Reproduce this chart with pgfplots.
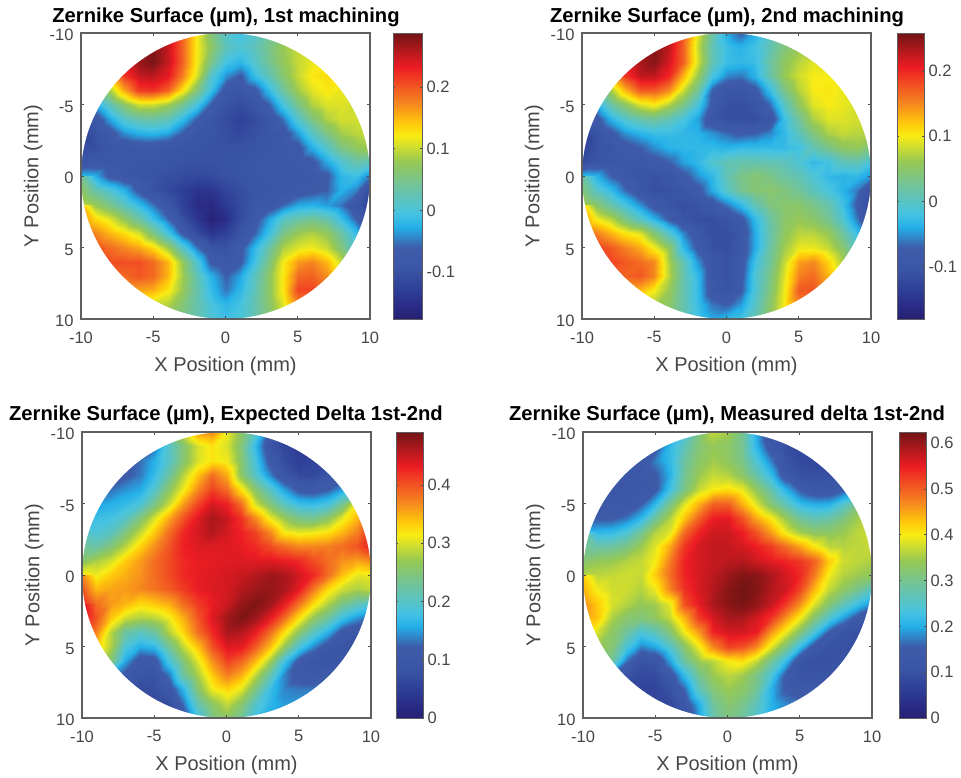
\documentclass[border=0pt]{standalone}
\usepackage{pgfplots}
\usepackage{fontspec}
\setmainfont{Liberation Sans}
\pgfplotsset{compat=1.18}
\definecolor{framegray}{RGB}{95,95,95}
\definecolor{textgray}{RGB}{70,70,70}
\pgfplotsset{
  colormap={zern}{
    rgb255(0pt)=(38,32,115);
    rgb255(5pt)=(42,45,135);
    rgb255(10pt)=(46,62,150);
    rgb255(17pt)=(58,84,165);
    rgb255(25pt)=(62,92,170);
    rgb255(32pt)=(35,175,232);
    rgb255(37pt)=(70,195,225);
    rgb255(46pt)=(110,195,160);
    rgb255(55pt)=(150,200,85);
    rgb255(64pt)=(248,236,20);
    rgb255(68pt)=(255,205,10);
    rgb255(76pt)=(245,130,32);
    rgb255(88pt)=(237,28,36);
    rgb255(100pt)=(115,20,20)
  },
  zern/.style={
    scale only axis,
    width=289pt,height=286pt,
    anchor=south west,
    xmin=-10,xmax=10,ymin=-10,ymax=10,
    y dir=reverse,
    xtick={-10,-5,0,5,10},ytick={-10,-5,0,5,10},
    axis on top,
    axis line style={draw=framegray,line width=1.2pt},
    tick style={draw=black!70,line width=0.6pt},
    major tick length=3pt,
    tick align=inside,
    tick label style={font=\fontsize{16.5}{18}\selectfont,text=textgray},
    xticklabel style={yshift=-9pt},
    yticklabel style={xshift=-4pt,yshift=-2pt},
    /pgf/number format/assume math mode=true,
    xlabel={X Position (mm)},ylabel={Y Position (mm)},
    label style={font=\fontsize{20}{24}\selectfont,text=textgray},
    x label style={at={(axis description cs:0.5,-0.165)},anchor=center},
    y label style={at={(axis description cs:-0.165,0.5)},anchor=center},
    colormap name=zern,
    colorbar,
    colorbar/width=27pt,
    colorbar style={
      anchor=south west,
      axis line style={draw=framegray,line width=0.8pt},
      tick style={draw=black!70,line width=0.6pt},
      major tick length=2pt,
      tick align=inside,
      /pgf/number format/assume math mode=true,
      yticklabel style={font=\fontsize{16.5}{18}\selectfont,text=textgray,xshift=1pt},
    },
  },
  surfdata/.style={surf,shader=interp,mesh/cols=21,point meta={\thisrowno{0}/1000}},
  /pgfplots/table/griddata/.style={/pgfplots/table/header=false,/pgfplots/table/row sep=\\,/pgfplots/table/x expr={mod(\coordindex,21)-10},/pgfplots/table/y expr={floor(\coordindex/21)-10}},
}
\newcommand{\discmask}{\fill[white,even odd rule] (axis cs:-11,-11) rectangle (axis cs:11,11) (axis cs:0,0) ellipse [x radius=10,y radius=10];}
\begin{document}
\begin{tikzpicture}[x=1pt,y=1pt]
\path[use as bounding box] (0,0) rectangle (961,777);
% values below are in nm (thousandths of a micrometre); rows y=-10..10, columns x=-10..10
\begin{axis}[zern,at={(81pt,458pt)},point meta min=-0.176,point meta max=0.2875,colorbar/width=29pt,
  colorbar style={at={(1.0796,0)},ytick={-0.1,0,0.1,0.2},yticklabels={-0.1,0,0.1,0.2}}]
\addplot[surfdata] table[griddata] {
280\\280\\280\\280\\280\\280\\260\\190\\120\\60\\10\\-10\\10\\40\\60\\80\\90\\90\\90\\90\\90\\
280\\280\\280\\280\\280\\280\\250\\195\\120\\70\\20\\5\\20\\50\\80\\100\\110\\110\\110\\110\\110\\
260\\260\\260\\260\\270\\285\\250\\195\\118\\50\\-5\\-20\\10\\45\\75\\100\\115\\120\\120\\120\\120\\
190\\190\\190\\215\\250\\255\\235\\180\\105\\10\\-40\\-65\\-15\\25\\65\\100\\125\\130\\125\\120\\120\\
40\\60\\90\\160\\215\\220\\195\\130\\60\\-10\\-80\\-90\\-70\\-15\\40\\85\\112\\125\\115\\110\\110\\
-80\\-30\\20\\65\\100\\100\\80\\45\\-5\\-65\\-100\\-110\\-95\\-60\\-5\\50\\90\\108\\110\\100\\100\\
-110\\-85\\-30\\10\\30\\35\\25\\-15\\-60\\-90\\-110\\-125\\-110\\-90\\-50\\10\\55\\90\\105\\105\\100\\
-120\\-100\\-75\\-40\\-25\\-20\\-30\\-60\\-85\\-95\\-105\\-115\\-105\\-90\\-80\\-35\\15\\55\\85\\95\\100\\
-125\\-105\\-90\\-85\\-80\\-80\\-85\\-90\\-95\\-100\\-100\\-100\\-95\\-90\\-85\\-70\\-25\\15\\55\\75\\85\\
-90\\-85\\-85\\-85\\-90\\-90\\-95\\-100\\-100\\-100\\-95\\-95\\-90\\-85\\-85\\-80\\-70\\-30\\5\\30\\20\\
-20\\-25\\-70\\-85\\-95\\-100\\-105\\-110\\-115\\-110\\-100\\-95\\-90\\-85\\-85\\-85\\-80\\-65\\-20\\-10\\-50\\
45\\30\\5\\-25\\-70\\-100\\-115\\-130\\-145\\-140\\-120\\-105\\-95\\-90\\-85\\-80\\-70\\-60\\-25\\-45\\-110\\
100\\80\\50\\20\\-15\\-50\\-90\\-125\\-155\\-160\\-135\\-110\\-90\\-80\\-55\\-30\\-25\\-35\\-50\\-90\\-130\\
150\\135\\110\\75\\35\\-10\\-55\\-105\\-140\\-170\\-150\\-110\\-75\\-30\\15\\35\\45\\30\\-10\\-60\\-120\\
190\\175\\150\\130\\105\\55\\-5\\-65\\-110\\-140\\-125\\-95\\-60\\-10\\50\\80\\90\\75\\35\\-15\\-80\\
220\\205\\190\\175\\160\\135\\85\\15\\-50\\-95\\-100\\-70\\-20\\35\\90\\110\\118\\100\\60\\0\\-60\\
220\\205\\205\\205\\205\\190\\150\\80\\5\\-65\\-85\\-65\\-10\\55\\120\\165\\175\\150\\100\\50\\0\\
180\\190\\190\\190\\200\\190\\150\\85\\25\\-25\\-60\\-30\\15\\70\\125\\190\\195\\170\\130\\80\\50\\
150\\150\\150\\160\\160\\155\\125\\80\\30\\-15\\-50\\-20\\20\\70\\125\\210\\210\\180\\150\\110\\80\\
100\\100\\100\\100\\100\\100\\90\\60\\30\\0\\-20\\-5\\25\\65\\110\\170\\170\\150\\130\\110\\90\\
80\\80\\80\\80\\80\\80\\70\\50\\30\\5\\-10\\0\\25\\60\\100\\130\\130\\120\\110\\100\\90\\
};
\discmask
\end{axis}
\begin{axis}[zern,at={(582pt,458pt)},point meta min=-0.18,point meta max=0.258,
  colorbar style={at={(1.09,0)},ytick={-0.1,0,0.1,0.2},yticklabels={-0.1,0,0.1,0.2}}]
\addplot[surfdata] table[griddata] {
250\\250\\250\\250\\250\\250\\240\\170\\90\\20\\-40\\-70\\-40\\0\\40\\60\\70\\70\\70\\70\\70\\
250\\250\\250\\250\\250\\250\\225\\170\\80\\10\\-25\\-35\\-20\\10\\40\\60\\70\\70\\70\\70\\70\\
235\\235\\235\\235\\235\\250\\215\\170\\85\\10\\-25\\-30\\-25\\20\\55\\75\\90\\90\\90\\90\\90\\
150\\150\\160\\190\\225\\225\\200\\130\\60\\-15\\-55\\-60\\-35\\15\\60\\85\\100\\100\\95\\90\\90\\
30\\50\\70\\130\\175\\175\\150\\85\\25\\-70\\-95\\-100\\-80\\-25\\35\\75\\100\\105\\95\\90\\90\\
-80\\-40\\15\\50\\85\\100\\70\\35\\-15\\-80\\-110\\-115\\-105\\-65\\0\\55\\90\\100\\95\\85\\80\\
-120\\-85\\-35\\-5\\15\\25\\10\\-15\\-45\\-100\\-115\\-115\\-115\\-95\\-25\\25\\70\\90\\90\\85\\80\\
-130\\-105\\-80\\-50\\-35\\-25\\-25\\-30\\-35\\-50\\-65\\-75\\-70\\-55\\-30\\5\\40\\70\\80\\75\\70\\
-140\\-110\\-100\\-85\\-70\\-50\\-35\\-30\\-30\\-30\\-35\\-30\\-30\\-30\\-30\\-20\\10\\35\\55\\60\\40\\
-120\\-100\\-95\\-95\\-95\\-85\\-70\\-45\\-30\\-5\\10\\15\\15\\10\\5\\-10\\-30\\-20\\5\\10\\-15\\
-30\\-35\\-70\\-90\\-105\\-110\\-100\\-80\\-50\\-30\\10\\35\\45\\35\\20\\10\\-10\\-30\\-35\\-30\\-50\\
20\\0\\-30\\-65\\-95\\-115\\-110\\-100\\-80\\-40\\0\\30\\45\\50\\40\\25\\5\\-15\\-35\\-60\\-110\\
70\\50\\15\\-15\\-50\\-85\\-105\\-115\\-105\\-90\\-60\\-30\\10\\40\\50\\50\\35\\15\\-20\\-75\\-130\\
120\\100\\75\\35\\0\\-35\\-75\\-105\\-115\\-115\\-105\\-80\\-30\\20\\50\\60\\50\\30\\-5\\-60\\-120\\
170\\155\\130\\105\\90\\45\\-5\\-55\\-95\\-115\\-115\\-95\\-40\\15\\55\\75\\75\\60\\25\\-25\\-90\\
200\\190\\175\\155\\135\\100\\55\\-30\\-80\\-110\\-115\\-90\\-40\\20\\65\\95\\95\\80\\50\\0\\-50\\
200\\195\\185\\175\\165\\150\\70\\10\\-50\\-100\\-110\\-85\\-20\\25\\80\\140\\150\\115\\70\\30\\0\\
170\\170\\170\\170\\175\\150\\75\\15\\-30\\-95\\-110\\-80\\-10\\35\\90\\155\\165\\130\\90\\60\\40\\
130\\130\\130\\130\\130\\100\\60\\15\\-30\\-90\\-105\\-75\\-10\\40\\95\\175\\175\\150\\120\\90\\70\\
90\\90\\90\\90\\80\\70\\50\\15\\-25\\-60\\-70\\-45\\0\\50\\100\\150\\150\\130\\110\\90\\70\\
70\\70\\70\\70\\70\\60\\40\\10\\-20\\-40\\-30\\-20\\10\\50\\90\\120\\120\\110\\100\\90\\70\\
};
\discmask
\end{axis}
\begin{axis}[zern,at={(82pt,59pt)},point meta min=0,point meta max=0.491,
  colorbar style={at={(1.0865,0)},ytick={0,0.1,0.2,0.3,0.4},yticklabels={0,0.1,0.2,0.3,0.4}}]
\addplot[surfdata] table[griddata] {
120\\120\\120\\120\\120\\130\\170\\300\\360\\370\\310\\260\\200\\110\\70\\60\\60\\60\\60\\60\\60\\
120\\120\\120\\120\\120\\130\\200\\250\\300\\320\\300\\250\\170\\90\\60\\50\\50\\50\\50\\50\\50\\
120\\120\\120\\120\\130\\160\\200\\255\\300\\320\\310\\255\\185\\110\\70\\50\\60\\60\\60\\60\\60\\
115\\115\\115\\115\\135\\170\\225\\285\\340\\385\\350\\260\\200\\140\\90\\65\\65\\90\\100\\100\\100\\
130\\130\\130\\145\\155\\195\\260\\310\\370\\410\\385\\320\\255\\200\\150\\110\\105\\120\\150\\180\\200\\
150\\150\\160\\170\\190\\240\\295\\360\\410\\445\\430\\385\\300\\250\\205\\175\\170\\185\\235\\320\\360\\
165\\175\\180\\200\\250\\300\\355\\400\\440\\465\\450\\420\\370\\310\\270\\240\\235\\260\\305\\345\\400\\
185\\190\\205\\245\\290\\335\\385\\425\\445\\460\\445\\430\\410\\370\\315\\305\\310\\320\\345\\375\\420\\
205\\220\\250\\285\\330\\365\\400\\430\\440\\440\\440\\435\\425\\405\\385\\370\\370\\375\\385\\400\\430\\
260\\280\\300\\335\\360\\385\\405\\425\\435\\435\\440\\440\\440\\440\\435\\425\\405\\385\\365\\355\\365\\
320\\310\\335\\350\\365\\385\\405\\425\\435\\440\\445\\450\\460\\470\\465\\445\\425\\385\\340\\305\\310\\
370\\345\\355\\360\\370\\380\\395\\415\\435\\440\\445\\460\\470\\475\\465\\435\\380\\325\\295\\280\\290\\
430\\385\\360\\345\\325\\335\\350\\385\\415\\435\\450\\475\\485\\470\\435\\380\\325\\280\\240\\210\\190\\
450\\400\\335\\295\\280\\285\\310\\350\\400\\440\\470\\485\\470\\435\\385\\320\\265\\225\\175\\145\\120\\
420\\375\\285\\225\\205\\225\\285\\330\\385\\425\\465\\460\\435\\385\\325\\260\\205\\160\\110\\95\\90\\
380\\340\\280\\190\\155\\165\\230\\290\\340\\400\\440\\435\\395\\340\\265\\185\\140\\100\\90\\80\\80\\
320\\300\\250\\155\\100\\105\\185\\250\\305\\365\\410\\390\\345\\275\\180\\110\\90\\85\\100\\100\\100\\
200\\200\\150\\110\\85\\85\\135\\225\\280\\335\\375\\350\\290\\215\\140\\105\\100\\110\\120\\120\\120\\
150\\120\\100\\80\\70\\75\\100\\165\\255\\310\\330\\305\\245\\175\\140\\135\\135\\140\\140\\140\\140\\
100\\80\\70\\70\\60\\60\\70\\130\\215\\260\\290\\255\\200\\165\\150\\150\\150\\150\\150\\150\\150\\
80\\70\\60\\60\\60\\60\\60\\100\\180\\240\\260\\230\\180\\150\\150\\150\\150\\150\\150\\150\\150\\
};
\discmask
\end{axis}
\begin{axis}[zern,at={(583pt,59pt)},point meta min=0,point meta max=0.624,
  colorbar style={at={(1.0934,0)},ytick={0,0.1,0.2,0.3,0.4,0.5,0.6},yticklabels={0,0.1,0.2,0.3,0.4,0.5,0.6}}]
\addplot[surfdata] table[griddata] {
120\\120\\120\\120\\120\\130\\170\\230\\310\\370\\350\\300\\200\\110\\80\\70\\70\\70\\70\\70\\70\\
120\\120\\120\\120\\120\\140\\215\\265\\320\\340\\330\\300\\210\\130\\95\\80\\80\\80\\80\\80\\80\\
120\\120\\120\\120\\130\\175\\215\\285\\330\\350\\335\\305\\245\\175\\105\\85\\80\\80\\80\\90\\90\\
120\\120\\120\\120\\125\\150\\205\\295\\345\\370\\360\\330\\280\\215\\130\\100\\95\\100\\120\\120\\120\\
130\\130\\120\\115\\125\\145\\225\\305\\370\\400\\410\\390\\335\\275\\205\\150\\125\\120\\145\\180\\200\\
150\\140\\125\\125\\155\\210\\305\\385\\445\\500\\500\\445\\385\\320\\270\\215\\200\\205\\250\\310\\340\\
175\\150\\150\\170\\210\\290\\360\\430\\500\\550\\555\\510\\450\\400\\345\\290\\270\\280\\310\\350\\370\\
205\\210\\215\\240\\295\\360\\385\\490\\545\\570\\570\\550\\510\\455\\395\\350\\330\\330\\345\\365\\375\\
280\\280\\285\\305\\345\\385\\450\\530\\565\\575\\575\\565\\550\\525\\490\\450\\405\\365\\360\\365\\370\\
325\\340\\345\\360\\370\\400\\480\\545\\565\\575\\580\\585\\570\\555\\545\\530\\500\\425\\375\\365\\355\\
360\\365\\370\\375\\370\\425\\490\\545\\565\\580\\600\\615\\610\\590\\565\\540\\480\\395\\360\\345\\335\\
420\\395\\375\\375\\360\\393\\475\\535\\565\\585\\610\\625\\615\\585\\570\\520\\440\\370\\335\\300\\260\\
465\\425\\380\\360\\340\\350\\390\\510\\555\\590\\610\\620\\605\\575\\530\\465\\385\\320\\270\\220\\180\\
470\\430\\355\\325\\315\\335\\370\\440\\525\\565\\590\\590\\565\\530\\465\\395\\320\\245\\190\\135\\110\\
420\\380\\330\\290\\240\\265\\320\\395\\460\\545\\565\\565\\550\\460\\395\\320\\240\\150\\110\\95\\90\\
380\\345\\320\\240\\175\\195\\250\\325\\395\\470\\520\\510\\470\\385\\310\\215\\130\\105\\100\\100\\100\\
320\\310\\290\\170\\105\\110\\195\\285\\345\\365\\400\\410\\370\\295\\220\\110\\100\\100\\110\\120\\120\\
200\\200\\160\\110\\85\\85\\130\\215\\300\\345\\365\\350\\310\\240\\150\\105\\105\\110\\125\\130\\130\\
150\\120\\100\\80\\75\\75\\100\\160\\265\\320\\345\\330\\295\\205\\150\\135\\135\\140\\140\\140\\140\\
100\\80\\70\\70\\70\\70\\80\\125\\205\\290\\325\\305\\265\\205\\180\\170\\170\\170\\170\\170\\170\\
80\\70\\70\\70\\70\\70\\70\\100\\190\\280\\310\\290\\250\\200\\180\\170\\170\\170\\170\\170\\170\\
};
\discmask
\end{axis}
\node[font=\fontsize{20.2}{24}\selectfont\bfseries,anchor=base] at (226,754) {Zernike Surface (µm), 1st machining};
\node[font=\fontsize{20.2}{24}\selectfont\bfseries,anchor=base] at (727,754) {Zernike Surface (µm), 2nd machining};
\node[font=\fontsize{20.2}{24}\selectfont\bfseries,anchor=base] at (226,356) {Zernike Surface (µm), Expected Delta 1st-2nd};
\node[font=\fontsize{20.2}{24}\selectfont\bfseries,anchor=base] at (727,356) {Zernike Surface (µm), Measured delta 1st-2nd};
\end{tikzpicture}
\end{document}
